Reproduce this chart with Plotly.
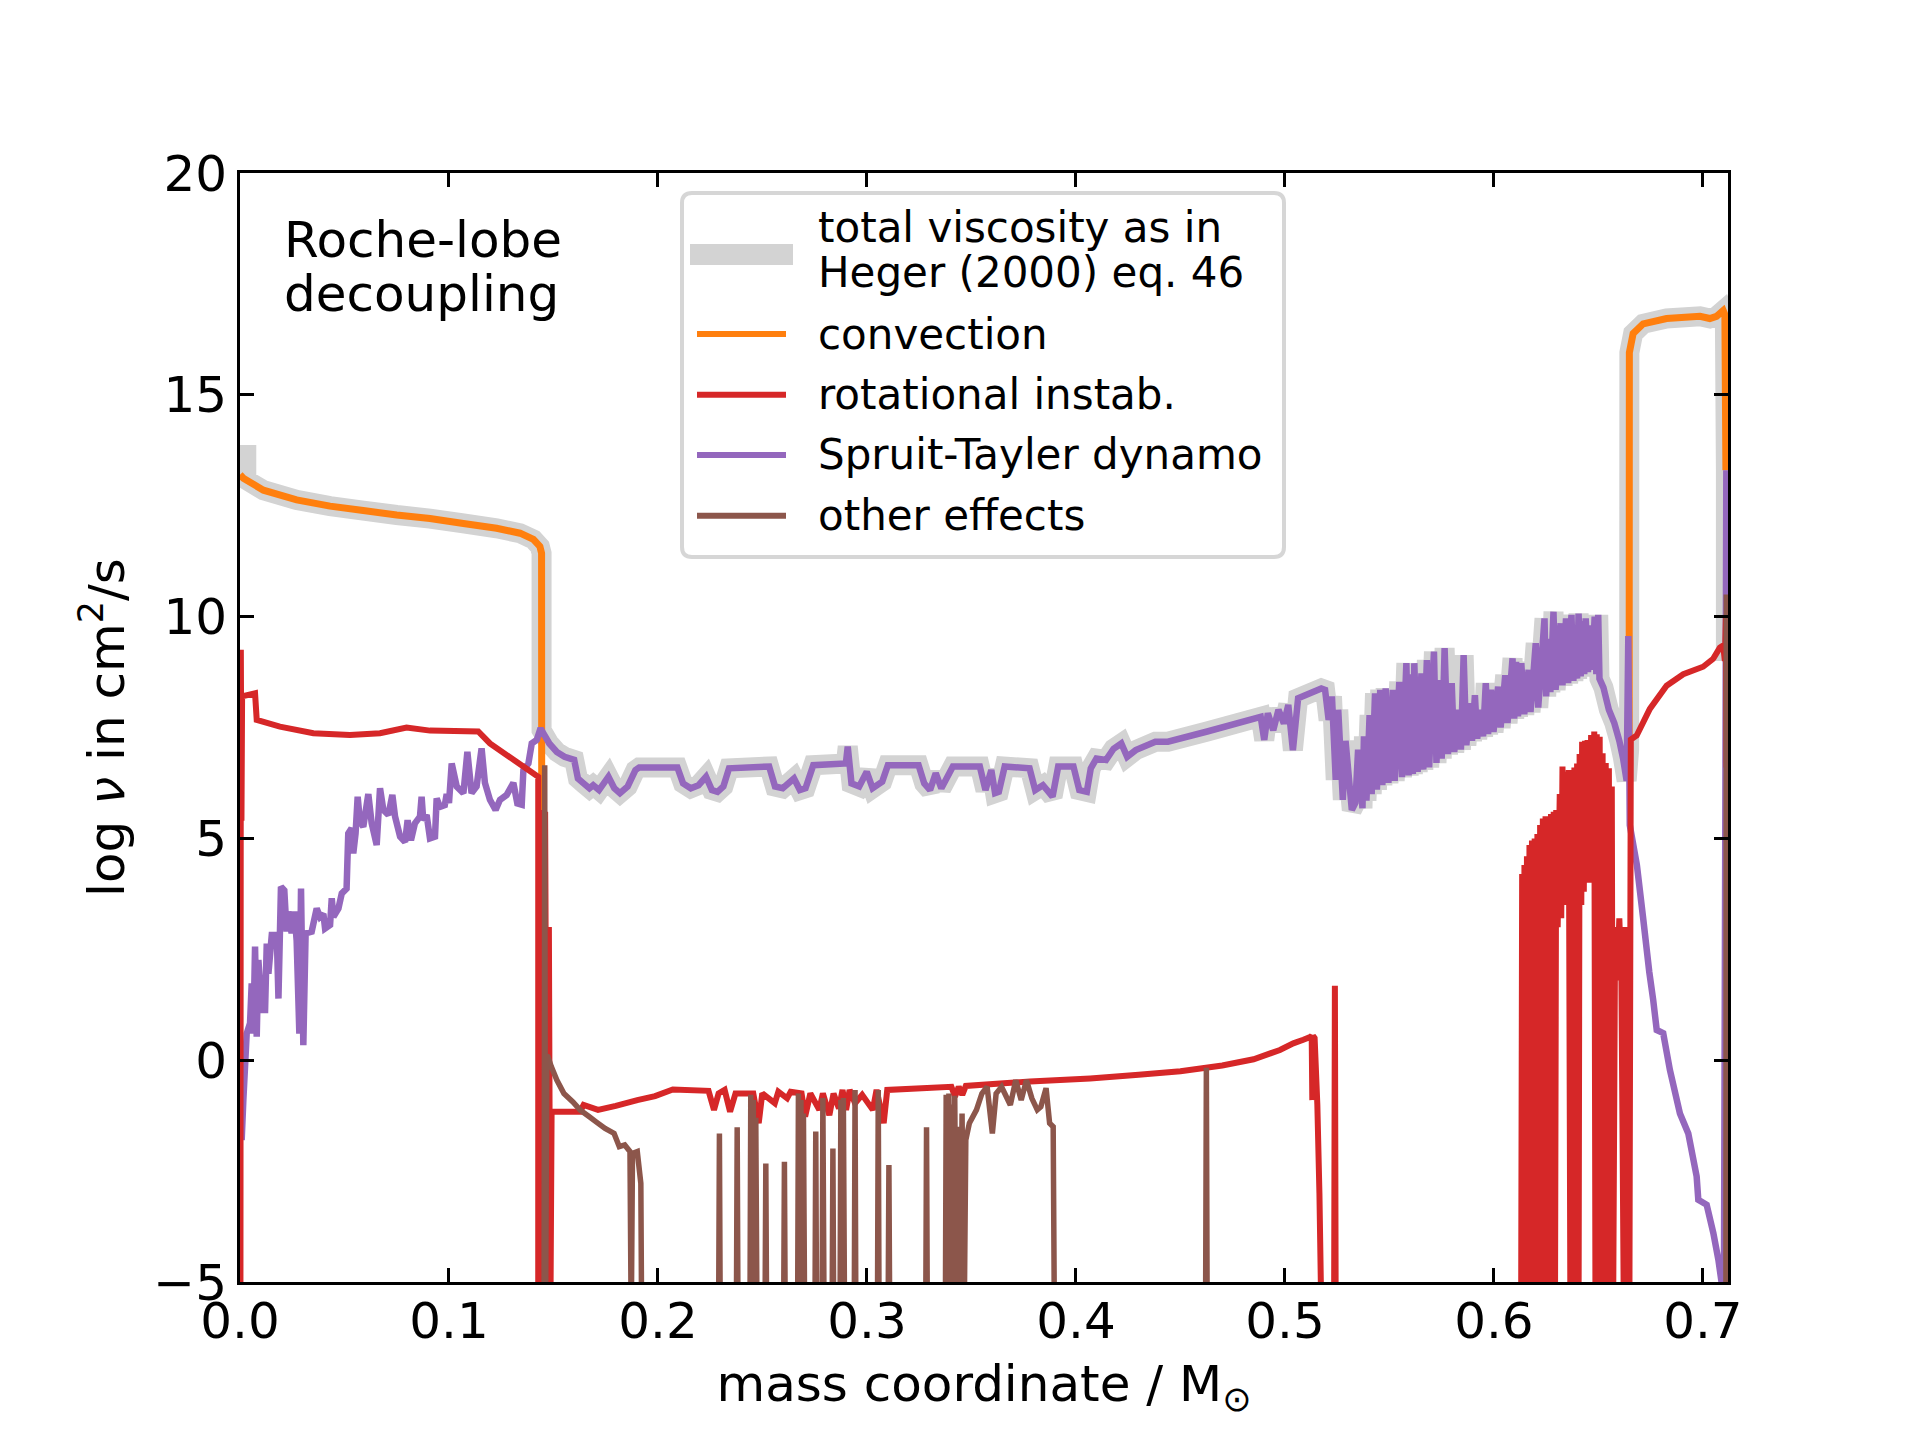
import plotly.graph_objects as go

# convection (left core part, right envelope part)
conv_left_x = [0.0, 0.0016, 0.0112, 0.0271, 0.0431, 0.0590, 0.0750, 0.0909, 0.1069, 0.1228,
               0.1340, 0.1404, 0.1435, 0.1443, 0.1445]
conv_left_y = [13.2, 13.12, 12.85, 12.63, 12.49, 12.39, 12.29, 12.21, 12.10, 11.99,
               11.88, 11.74, 11.58, 11.43, -6]
conv_right_x = [0.6647, 0.6648, 0.6666, 0.6714, 0.6826, 0.6986, 0.7033, 0.7065, 0.7097, 0.7105, 0.7110]
conv_right_y = [7.0, 15.95, 16.38, 16.6, 16.72, 16.77, 16.72, 16.77, 16.9, 16.81, 13.3]
conv_edge_x = [0.6647, 0.6647]
conv_edge_y = [-6, 7.0]

# Spruit-Tayler dynamo
st_x = [0.0008, 0.0016, 0.0024, 0.0032, 0.0048, 0.0056, 0.0064, 0.0072, 0.0080, 0.0088,
        0.0104, 0.0120, 0.0128, 0.0136, 0.0152, 0.0176, 0.0184, 0.0196, 0.0212, 0.0223,
        0.0231, 0.0247, 0.0260, 0.0271, 0.0284, 0.0292, 0.0303, 0.0314, 0.0343, 0.0367,
        0.0383, 0.0399, 0.0407, 0.0431, 0.0439, 0.0447, 0.0471, 0.0487, 0.0510, 0.0518,
        0.0534, 0.0542, 0.0553, 0.0563, 0.0574, 0.0590, 0.0614, 0.0630, 0.0654, 0.0670,
        0.0686, 0.0710, 0.0729, 0.0742, 0.0766, 0.0790, 0.0802, 0.0818, 0.0837, 0.0861,
        0.0869, 0.0877, 0.0893, 0.0909, 0.0933, 0.0941, 0.0957, 0.0980, 0.0989, 0.1000,
        0.1013, 0.1037, 0.1069, 0.1088, 0.1108, 0.1132, 0.1156, 0.1172, 0.1196, 0.1223,
        0.1244, 0.1276, 0.1308, 0.1327, 0.1348, 0.1356, 0.1380, 0.1396, 0.1420, 0.1435,
        0.1443, 0.1480, 0.1516, 0.1553, 0.1599, 0.1617, 0.1644, 0.1672, 0.1690, 0.1718,
        0.1763, 0.1791, 0.1818, 0.1855, 0.1892, 0.1910, 0.2093, 0.2120, 0.2157, 0.2194,
        0.2230, 0.2258, 0.2285, 0.2313, 0.2340, 0.2532, 0.2560, 0.2597, 0.2651, 0.2679,
        0.2706, 0.2743, 0.2899, 0.2908, 0.2926, 0.2963, 0.2999, 0.3027, 0.3073, 0.3100,
        0.3247, 0.3274, 0.3302, 0.3329, 0.3356, 0.3411, 0.3540, 0.3567, 0.3595, 0.3613,
        0.3631, 0.3659, 0.3778, 0.3805, 0.3842, 0.3869, 0.3888, 0.3915, 0.3988, 0.4016,
        0.4052, 0.4071, 0.4098, 0.4144, 0.4180, 0.4217, 0.4245, 0.4286, 0.4380, 0.4440,
        0.4628, 0.4884, 0.4901, 0.4918, 0.4944, 0.4969, 0.4995, 0.5016, 0.5038, 0.5063,
        0.5174, 0.5192, 0.5209, 0.5225, 0.5243, 0.5255, 0.5277, 0.5290, 0.5320, 0.5337,
        0.5350, 0.5371, 0.5378, 0.5390, 0.5405, 0.5415, 0.5431, 0.5440, 0.5456, 0.5466,
        0.5482, 0.5495, 0.5516, 0.5525, 0.5547, 0.5560, 0.5581, 0.5592, 0.5605, 0.5612,
        0.5619, 0.5635, 0.5653, 0.5662, 0.5679, 0.5690, 0.5713, 0.5725, 0.5738, 0.5750,
        0.5764, 0.5780, 0.5798, 0.5810, 0.5832, 0.5842, 0.5855, 0.5868, 0.5884, 0.5895,
        0.5909, 0.5920, 0.5935, 0.5948, 0.5961, 0.5972, 0.5986, 0.5998, 0.6020, 0.6032,
        0.6054, 0.6065, 0.6089, 0.6097, 0.6106, 0.6115, 0.6131, 0.6145, 0.6166, 0.6175,
        0.6200, 0.6212, 0.6242, 0.6250, 0.6260, 0.6270, 0.6285, 0.6295, 0.6319, 0.6328,
        0.6345, 0.6355, 0.6371, 0.6380, 0.6390, 0.6398, 0.6405, 0.6415, 0.6425, 0.6432,
        0.6439, 0.6450, 0.6460, 0.6470, 0.6482, 0.6490, 0.6499, 0.6505, 0.6524, 0.6550,
        0.6576, 0.6600, 0.6618, 0.6635, 0.6643, 0.6650, 0.6684, 0.6714, 0.6743, 0.6762,
        0.6779, 0.6810, 0.6842, 0.6890, 0.6930, 0.6970, 0.6978, 0.7018, 0.7050, 0.7074,
        0.7090, 0.7100, 0.7112, 0.7114]
st_y = [-1.8, -0.9, -0.15, 0.6, 0.83, 1.73, 0.6, 2.56, 0.53, 2.26,
        1.13, 1.13, 2.63, 1.95, 2.82, 2.82, 1.39, 3.91, 3.83, 2.9,
        3.35, 2.86, 3.35, 2.7, 0.6, 3.87, 0.34, 2.86, 2.9, 3.42,
        3.23, 3.3, 2.97, 3.05, 3.65, 3.23, 3.42, 3.76, 3.87, 5.11,
        5.23, 4.66, 5.11, 5.94, 5.38, 5.26, 6.0, 5.34, 4.85, 6.13,
        5.64, 5.53, 5.98, 5.49, 5.04, 4.92, 5.41, 4.96, 5.34, 5.49,
        5.94, 5.41, 5.53, 5.0, 5.04, 5.9, 5.71, 5.75, 6.0, 5.8,
        6.69, 6.17, 6.02, 6.95, 6.02, 6.17, 7.03, 6.25, 5.87, 5.64,
        5.87, 5.98, 6.25, 5.79, 5.76, 6.54, 6.69, 7.14, 7.22, 7.44,
        7.44, 7.14, 6.95, 6.84, 6.77, 6.35, 6.24, 6.13, 6.20, 6.09,
        6.39, 6.13, 6.02, 6.17, 6.54, 6.60, 6.60, 6.24, 6.13, 6.20,
        6.39, 6.09, 6.05, 6.17, 6.58, 6.62, 6.17, 6.13, 6.35, 6.09,
        6.13, 6.65, 6.69, 7.07, 6.24, 6.17, 6.50, 6.13, 6.28, 6.65,
        6.65, 6.24, 6.09, 6.47, 6.13, 6.62, 6.62, 6.09, 6.54, 6.02,
        6.05, 6.62, 6.58, 6.09, 6.20, 6.05, 5.94, 6.62, 6.62, 6.09,
        6.05, 6.58, 6.80, 6.77, 7.02, 7.14, 6.84, 6.99, 7.18, 7.18,
        7.41, 7.74, 7.22, 7.82, 7.44, 7.90, 7.59, 8.01, 6.99, 8.16,
        8.38, 8.35, 7.67, 8.2, 6.32, 7.9, 5.87, 7.2, 5.64, 5.8,
        7.0, 5.68, 7.3, 5.85, 7.78, 6.0, 8.27, 6.1, 8.35, 6.2,
        8.38, 6.25, 8.35, 6.3, 8.53, 6.38, 8.95, 6.42, 8.7, 6.45,
        8.95, 6.5, 8.72, 6.55, 9.02, 6.6, 9.21, 6.7, 8.57, 6.8,
        9.29, 6.9, 8.5, 6.95, 7.9, 7.0, 9.13, 7.1, 8.05, 7.2,
        8.23, 7.25, 7.9, 7.3, 8.5, 7.35, 8.35, 7.4, 8.42, 7.5,
        8.68, 7.6, 9.06, 7.7, 8.98, 7.75, 8.95, 7.8, 8.8, 7.85,
        9.4, 7.95, 9.96, 8.2, 9.5, 8.3, 10.11, 8.35, 9.85, 8.45,
        9.96, 8.5, 10.04, 8.55, 9.8, 8.6, 10.07, 8.65, 9.9, 8.7,
        9.96, 8.75, 9.8, 8.8, 10.0, 8.7, 10.04, 8.6, 8.4, 7.9,
        7.6, 7.2, 6.8, 6.3, 9.56, 5.3, 4.4, 3.2, 2.0, 1.36,
        0.68, 0.61, -0.22, -1.2, -1.65, -2.62, -3.15, -3.26, -3.9, -4.5,
        -5.03, -6, 13.3, 10.0]

# rotational instabilities
rot_x = [0.0002, 0.0004, 0.0007, 0.0010, 0.0072, 0.0080, 0.0191, 0.0351, 0.0526, 0.0670,
         0.0797, 0.0909, 0.1140, 0.1196, 0.1356, 0.1427, 0.1427, 0.1440, 0.1450, 0.1460,
         0.1470, 0.1478, 0.1485, 0.1491, 0.1627, 0.1644, 0.1713, 0.1798, 0.1901, 0.1986,
         0.2071, 0.2242, 0.2268, 0.2290, 0.2319, 0.2345, 0.2371, 0.2456, 0.2482, 0.2499,
         0.2559, 0.2576, 0.2618, 0.2635, 0.2687, 0.2704, 0.2729, 0.2772, 0.2789, 0.2820,
         0.2840, 0.2866, 0.2883, 0.2900, 0.2917, 0.2943, 0.2977, 0.3028, 0.3046, 0.3080,
         0.3097, 0.3404, 0.3421, 0.3439, 0.3456, 0.3473, 0.3780, 0.4068, 0.4300, 0.4500,
         0.4700, 0.4850, 0.4976, 0.5040, 0.5088, 0.5120, 0.5128, 0.5131, 0.5134, 0.5142,
         0.5155, 0.5165, 0.5175, 0.5235, 0.5239, 0.5243, 0.6130,
         0.6135, 0.6140, 0.6146, 0.6152, 0.6158, 0.6164, 0.6170, 0.6176, 0.6182, 0.6188,
         0.6195, 0.6201, 0.6208, 0.6214, 0.6221, 0.6227, 0.6234, 0.6240, 0.6247, 0.6253,
         0.6260, 0.6266, 0.6273, 0.6279, 0.6286, 0.6292, 0.6298, 0.6305, 0.6315, 0.6322,
         0.6328, 0.6336, 0.6344, 0.6352, 0.6358, 0.6366, 0.6372, 0.6378, 0.6385, 0.6392,
         0.6398, 0.6405, 0.6410, 0.6418, 0.6422, 0.6430, 0.6436, 0.6442, 0.6448, 0.6456,
         0.6465, 0.6472, 0.6480, 0.6486, 0.6492, 0.6500, 0.6506, 0.6514, 0.6520, 0.6528,
         0.6535, 0.6542, 0.6550, 0.6558, 0.6564, 0.6570, 0.6580, 0.6590, 0.6600, 0.6610,
         0.6622, 0.6628, 0.6635, 0.6642, 0.6648, 0.6655, 0.6683, 0.6746, 0.6826, 0.6906,
         0.7001, 0.7049, 0.7081, 0.7097, 0.7105, 0.7110, 0.7113]
rot_y = [-6, 9.25, 5.4, 8.2, 8.27, 7.67, 7.52, 7.37, 7.33, 7.37,
         7.50, 7.43, 7.41, 7.14, 6.62, 6.39, -6, 5.64, -6, 5.6,
         -6, 3.0, -6, -1.16, -1.16, -1.01, -1.12, -1.03, -0.90, -0.81,
         -0.66, -0.69, -1.12, -0.75, -0.67, -1.16, -0.75, -0.75, -1.42, -0.75,
         -0.97, -0.71, -0.86, -0.71, -0.75, -1.27, -0.75, -1.12, -0.75, -1.24,
         -0.75, -1.09, -0.67, -1.12, -0.67, -0.97, -0.78, -1.12, -0.67, -1.42,
         -0.67, -0.60, -0.82, -0.60, -0.78, -0.58, -0.48, -0.41, -0.33, -0.25,
         -0.12, 0.02, 0.23, 0.38, 0.46, 0.52, 0.55, -0.9, 0.55, 0.50,
         -1.0, -3.0, -6, -6, 1.68, -6, -6,
         4.2, -6, 4.4, -6, 4.6, -6, 4.85, -6, 4.95, -6,
         5.0, -6, 5.1, -6, 5.3, -6, 5.45, -6, 5.5, -6,
         5.5, -6, 5.55, -6, 5.6, -6, 5.64, 3.0, 6.0, 3.2,
         6.62, 3.5, 6.5, 3.5, 6.54, -6, 6.47, -6, 6.6, -6,
         6.69, -6, 6.9, 3.5, 7.18, 3.8, 7.2, 4.0, 7.22, 4.0,
         7.33, 4.2, 7.41, -6, 7.35, -6, 7.29, -6, 6.92, -6,
         6.7, -6, 6.58, -6, 6.17, -6, 3.0, 1.8, 3.2, 1.8,
         -6, 3.0, -6, 2.0, -6, 7.23, 7.32, 7.92, 8.44, 8.7,
         8.87, 9.05, 9.3, 9.35, 9.0, 10.0, 6.6]

# other effects
oth_x = [0.1455, 0.1458, 0.1462, 0.1468, 0.1473, 0.1490, 0.1516, 0.1550, 0.1593, 0.1627,
         0.1670, 0.1704, 0.1747, 0.1790, 0.1815, 0.1841, 0.1866, 0.1872, 0.1878, 0.1901,
         0.1918, 0.1922, 0.2290, 0.2294, 0.2298, 0.2375, 0.2379, 0.2383, 0.2440, 0.2444,
         0.2450, 0.2456, 0.2462, 0.2468, 0.2474, 0.2512, 0.2516, 0.2520, 0.2601, 0.2605,
         0.2609, 0.2668, 0.2672, 0.2678, 0.2684, 0.2690, 0.2696, 0.2702, 0.2751, 0.2755,
         0.2759, 0.2785, 0.2789, 0.2795, 0.2833, 0.2837, 0.2841, 0.2871, 0.2875, 0.2881,
         0.2887, 0.2893, 0.2939, 0.2943, 0.2947, 0.3050, 0.3054, 0.3058, 0.3101, 0.3105,
         0.3109, 0.3281, 0.3285, 0.3289, 0.3375, 0.3379, 0.3385, 0.3392, 0.3398, 0.3405,
         0.3412, 0.3420, 0.3428, 0.3436, 0.3445, 0.3455, 0.3465, 0.3473, 0.3490, 0.3524,
         0.3550, 0.3575, 0.3600, 0.3618, 0.3644, 0.3686, 0.3712, 0.3738, 0.3763, 0.3789,
         0.3815, 0.3832, 0.3857, 0.3874, 0.3891, 0.3897, 0.4620, 0.4624, 0.4628, 0.7110,
         0.7112, 0.7114]
oth_y = [-6, 6.65, -6, 0.1, 0.08, -0.15, -0.45, -0.75, -0.94, -1.12,
         -1.27, -1.39, -1.54, -1.65, -1.95, -1.91, -2.06, -6, -2.1, -2.06,
         -2.78, -6, -6, -1.65, -6, -6, -1.51, -6, -6, -0.78,
         -6, -0.9, -6, -1.3, -6, -6, -2.33, -6, -6, -2.29,
         -6, -6, -0.75, -6, -0.9, -6, -1.2, -6, -6, -1.61,
         -6, -6, -0.85, -6, -6, -1.99, -6, -6, -0.9, -6,
         -0.85, -6, -6, -0.67, -6, -6, -0.67, -6, -6, -2.36,
         -6, -6, -1.51, -6, -6, -0.78, -6, -0.75, -6, -1.0,
         -6, -0.8, -6, -1.5, -6, -1.2, -6, -1.8, -1.42, -1.12,
         -0.75, -0.6, -1.65, -0.75, -0.6, -1.01, -0.45, -0.9, -0.45, -0.86,
         -1.12, -1.05, -0.63, -1.42, -1.5, -6, -6, -0.17, -6, -6,
         10.5, -6]

# total viscosity: envelope made of the pieces above
total_head_x = [0.0030, 0.0030]
total_head_y = [13.87, 13.0]
total_tail_x = [0.7110]
total_tail_y = [9.0]

mid = [(x, y) for x, y in zip(st_x, st_y) if 0.1443 <= x <= 0.6640]
tot_x = total_head_x + conv_left_x[1:-1] + [p[0] for p in mid] + conv_right_x + total_tail_x
tot_y = total_head_y + conv_left_y[1:-1] + [p[1] for p in mid] + conv_right_y + total_tail_y

GRAY, ORANGE, RED, PURPLE, BROWN = '#d3d3d3', '#ff7f0e', '#d62728', '#9467bd', '#8c564b'

fig = go.Figure()


def add_line(x, y, color, width):
    fig.add_trace(go.Scatter(x=x, y=y, mode='lines', showlegend=False, hoverinfo='skip',
                             line=dict(color=color, width=width, simplify=False)))


add_line(tot_x, tot_y, GRAY, 20)
add_line(conv_left_x, conv_left_y, ORANGE, 7)
add_line(conv_right_x, conv_right_y, ORANGE, 7)
add_line(conv_edge_x, conv_edge_y, ORANGE, 2)
add_line(st_x, st_y, PURPLE, 6.5)
add_line(rot_x, rot_y, RED, 6)
add_line(oth_x, oth_y, BROWN, 5.5)

# plot area in page pixels: x 240..1728, y 173..1282


def px(X):
    return (X - 240) / 1488


def py(Y):
    return 1 - (Y - 173) / 1109


# annotation text
for txt, Y in [('Roche-lobe', 240), ('decoupling', 294)]:
    fig.add_annotation(text=txt, xref='paper', yref='paper', x=px(282), y=py(Y),
                       xanchor='left', yanchor='middle', showarrow=False,
                       font=dict(size=50, color='black'))

# legend (drawn by hand to match the matplotlib frame)
bx0, bx1, by0, by1 = px(682), px(1284), py(557), py(193)
rx, ry = 10 / 1488, 10 / 1109
box = (f"M {bx0 + rx},{by1} L {bx1 - rx},{by1} Q {bx1},{by1} {bx1},{by1 - ry} "
       f"L {bx1},{by0 + ry} Q {bx1},{by0} {bx1 - rx},{by0} L {bx0 + rx},{by0} "
       f"Q {bx0},{by0} {bx0},{by0 + ry} L {bx0},{by1 - ry} Q {bx0},{by1} {bx0 + rx},{by1} Z")
fig.add_shape(type='path', path=box, xref='paper', yref='paper', layer='above',
              fillcolor='rgba(255,255,255,0.8)', line=dict(color='#d6d6d6', width=4))

fig.add_shape(type='rect', xref='paper', yref='paper', layer='above',
              x0=px(690), x1=px(793), y0=py(265), y1=py(244),
              fillcolor=GRAY, line=dict(width=0))
for txt, Y in [('total viscosity as in', 227), ('Heger (2000) eq. 46', 272)]:
    fig.add_annotation(text=txt, xref='paper', yref='paper', x=px(816), y=py(Y),
                       xanchor='left', yanchor='middle', showarrow=False,
                       font=dict(size=42, color='black'))

legend_names = ['convection', 'rotational instab.', 'Spruit-Tayler dynamo', 'other effects']
legend_colors = [ORANGE, RED, PURPLE, BROWN]
legend_rows = [334, 394.7, 455, 515.7]
for name, color, Y in zip(legend_names, legend_colors, legend_rows):
    fig.add_shape(type='line', xref='paper', yref='paper', layer='above',
                  x0=px(697), x1=px(786), y0=py(Y), y1=py(Y),
                  line=dict(color=color, width=6))
    fig.add_annotation(text=name, xref='paper', yref='paper', x=px(816), y=py(Y),
                       xanchor='left', yanchor='middle', showarrow=False,
                       font=dict(size=42, color='black'))

axis_style = dict(showline=True, linewidth=3, linecolor='black', mirror='ticks',
                  ticks='inside', ticklen=14, tickwidth=3, tickcolor='black',
                  showgrid=False, zeroline=False,
                  tickfont=dict(size=50, color='black'))

fig.update_xaxes(range=[0, 0.712], dtick=0.1, tick0=0, tickformat='.1f',
                 ticklabelstandoff=-7,
                 title=dict(text='mass coordinate / M<sub>⊙</sub>', font=dict(size=50, color='black'),
                            standoff=17),
                 **axis_style)
fig.update_yaxes(range=[-5, 20], dtick=5, tick0=0,
                 title=dict(text='log <i>ν</i> in cm<sup>2</sup>/s', font=dict(size=50, color='black'),
                            standoff=13),
                 **axis_style)

fig.update_layout(
    width=1920, height=1440,
    margin=dict(l=240, r=192, t=173, b=158),
    paper_bgcolor='white', plot_bgcolor='white',
    font=dict(family='DejaVu Sans', color='black'),
    showlegend=False,
)

fig.write_html("out.html", config={'displayModeBar': False},
               post_script="document.body.style.margin='0';")
